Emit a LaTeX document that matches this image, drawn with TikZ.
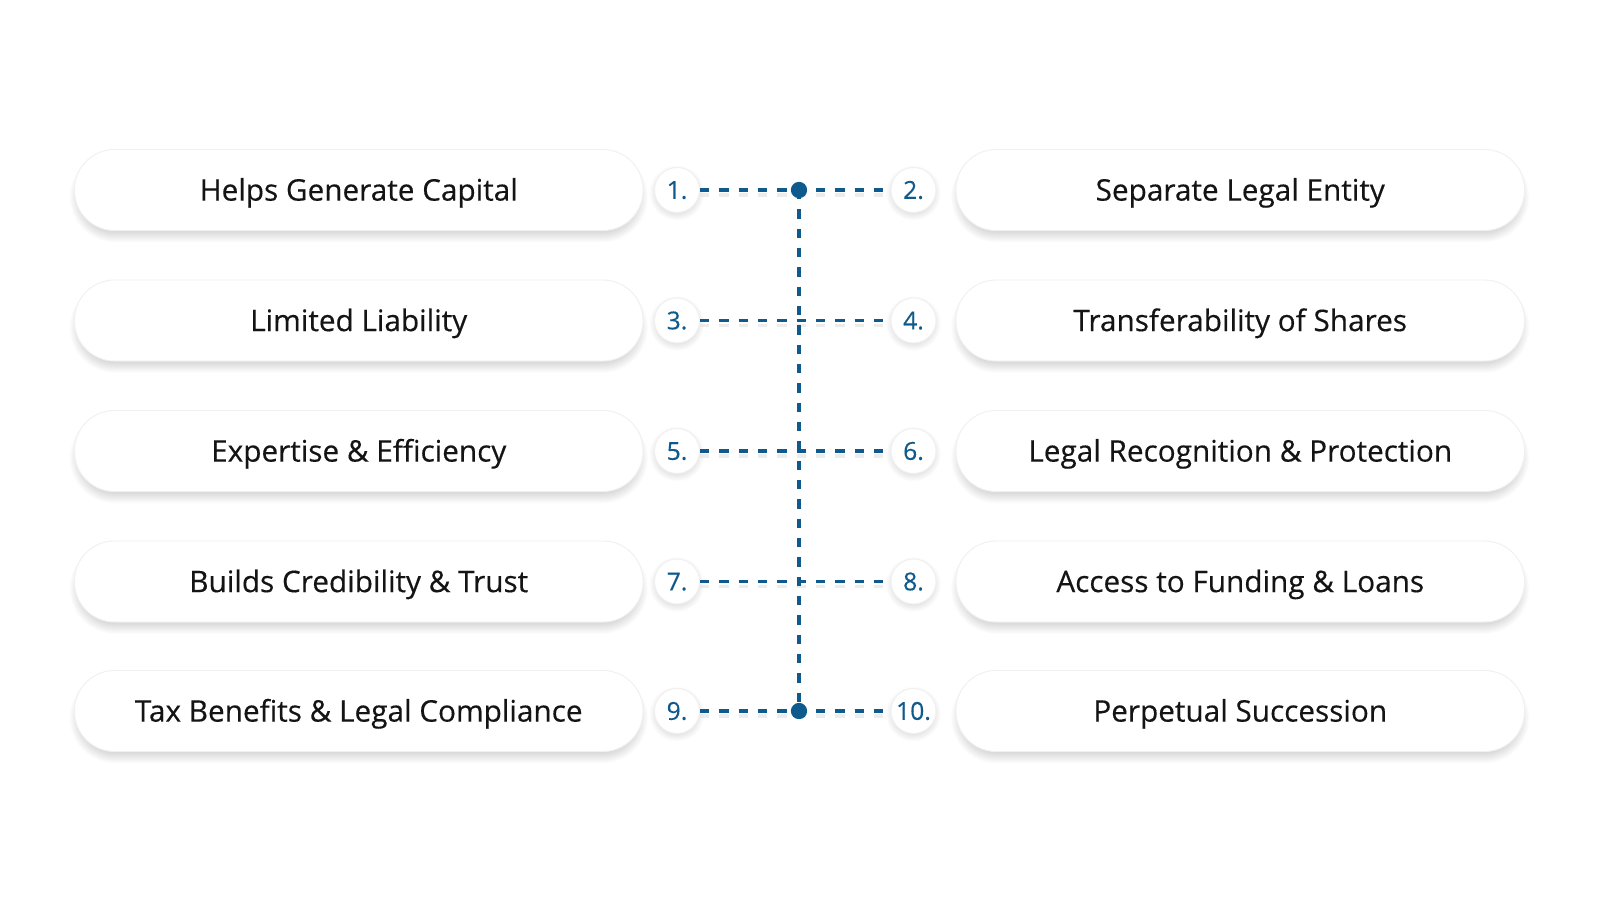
\documentclass[tikz,border=0pt]{standalone}
\usepackage{fontspec}
\setmainfont{Open Sans}
\newfontfamily\medfont[FakeBold=0.35]{Open Sans}
\definecolor{nblue}{HTML}{0F5A8C}
\definecolor{txt}{HTML}{141414}
% soft shadow: centre x, centre y, half width, half height (px units), drop
\newcommand\softshadow[5]{%
  \foreach \k in {0,...,11}{%
    \pgfmathsetmacro\hw{#3-5+\k*0.9}%
    \pgfmathsetmacro\hh{#4-5+\k*0.9}%
    \pgfmathsetmacro\rr{\hh*0.75}%
    \fill[black,opacity=0.012,rounded corners=\rr pt] (#1-\hw,#2+#5-\hh) rectangle (#1+\hw,#2+#5+\hh);
  }}
\begin{document}
\begin{tikzpicture}[x=0.75pt,y=-0.75pt,
  pill/.style={draw=black!6, line width=0.7pt, fill=white, rounded corners=30pt,
    minimum width=426.4pt, minimum height=60.75pt, inner sep=0pt, text=txt,
    font=\medfont\fontsize{22.3}{26}\selectfont, text height=15.9pt, text depth=0pt},
  num/.style={circle, draw=black!6, line width=0.7pt, fill=white, minimum size=33.75pt, inner sep=0pt,
    text=nblue, font=\medfont\fontsize{18.5}{20}\selectfont, text height=13.2pt, text depth=0pt},
  link/.style={nblue, line width=2.3pt, dash pattern=on 7pt off 7.5pt},
  linkshadow/.style={black!12, line width=2.5pt, dash pattern=on 7pt off 7.5pt, opacity=0.6},
  hub/.style={circle, fill=nblue, minimum size=12.2pt, inner sep=0pt}
]
\fill[white] (0,0) rectangle (1600,900);
\useasboundingbox (0,0) rectangle (1600,900);

% shadows
\foreach \y in {190,320.5,451,581.5,711}{
  \softshadow{358.75}{\y}{284.25}{40.5}{7}
  \softshadow{1240.25}{\y}{284.25}{40.5}{7}
  \softshadow{677}{\y}{22.5}{22.5}{3}
  \softshadow{913.5}{\y}{22.5}{22.5}{3}
}

\node[pill] (l1) at (358.75,190) {Helps Generate Capital};
\node[pill] (l2) at (358.75,320.5) {Limited Liability};
\node[pill] (l3) at (358.75,451) {Expertise \& Efficiency};
\node[pill] (l4) at (358.75,581.5) {Builds Credibility \& Trust};
\node[pill] (l5) at (358.75,711) {Tax Benefits \& Legal Compliance};

\node[pill] (r1) at (1240.25,190) {Separate Legal Entity};
\node[pill] (r2) at (1240.25,320.5) {Transferability of Shares};
\node[pill] (r3) at (1240.25,451) {Legal Recognition \& Protection};
\node[pill] (r4) at (1240.25,581.5) {Access to Funding \& Loans};
\node[pill] (r5) at (1240.25,711) {Perpetual Succession};

\coordinate (dtopc) at (799,190);
\coordinate (dbotc) at (799,711);

% line shadows
\foreach \y in {190,320.5,451,581.5,711}{
  \draw[linkshadow] (700,\y+5) -- (892,\y+5);
}

\node[num] (c1) at (677,190) {1.};
\node[num] (c2) at (913.5,190) {2.};
\node[num] (c3) at (677,320.5) {3.};
\node[num] (c4) at (913.5,320.5) {4.};
\node[num] (c5) at (677,451) {5.};
\node[num] (c6) at (913.5,451) {6.};
\node[num] (c7) at (677,581.5) {7.};
\node[num] (c8) at (913.5,581.5) {8.};
\node[num] (c9) at (677,711) {9.};
\node[num] (c10) at (913.5,711) {10.};

\draw[link] (c1.east) -- (c2.west);
\draw[link] (c3.east) -- (c4.west);
\draw[link] (c5.east) -- (c6.west);
\draw[link] (c7.east) -- (c8.west);
\draw[link] (c9.east) -- (c10.west);
\draw[link] (dtopc) -- (dbotc);

\node[hub] (dtop) at (dtopc) {};
\node[hub] (dbot) at (dbotc) {};
\end{tikzpicture}
\end{document}
